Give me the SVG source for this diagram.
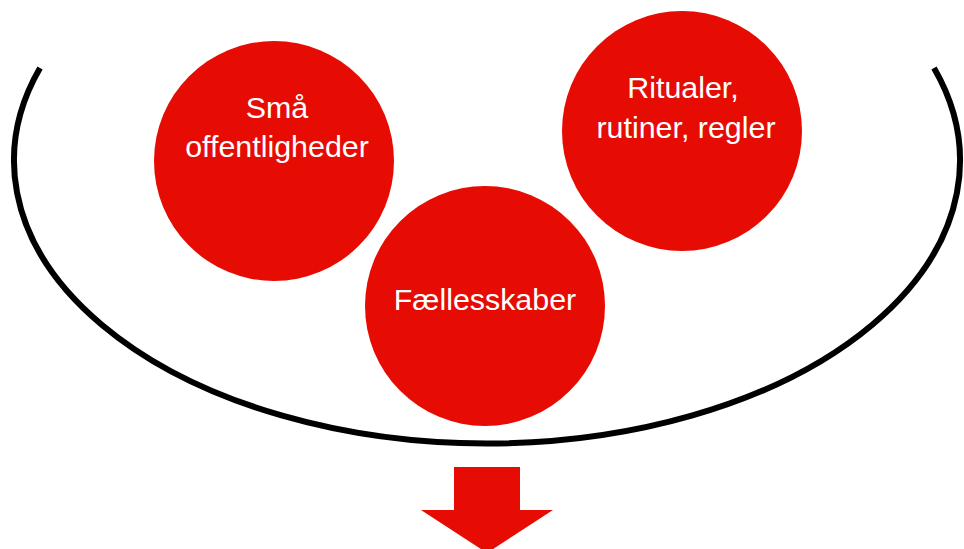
<svg xmlns="http://www.w3.org/2000/svg" width="964" height="549" viewBox="0 0 964 549">
<style>
.c{fill:#E60C03}
.t{fill:#fff;font-family:"Liberation Sans",Arial,sans-serif;font-size:30.4px;text-anchor:middle}
</style>
<rect width="964" height="549" fill="#fff"/>
<g id="connectors">
<path d="M40,68 A473,283 0 1,0 934,68" fill="none" stroke="#000" stroke-width="6"/>
<polygon class="c" points="454,467 520,467 520,510 553,510 487,553 421,510 454,510"/>
</g>
<g id="node-smaa">
<circle class="c" cx="274" cy="161" r="120"/>
<text class="t" x="277" y="118">Små</text>
<text class="t" x="277" y="157">offentligheder</text>
</g>
<g id="node-faellesskaber">
<circle class="c" cx="485" cy="306" r="120"/>
<text class="t" x="485" y="310">Fællesskaber</text>
</g>
<g id="node-ritualer">
<circle class="c" cx="682" cy="131" r="120"/>
<text class="t" x="683" y="98">Ritualer,</text>
<text class="t" x="686" y="138">rutiner, regler</text>
</g>
</svg>
